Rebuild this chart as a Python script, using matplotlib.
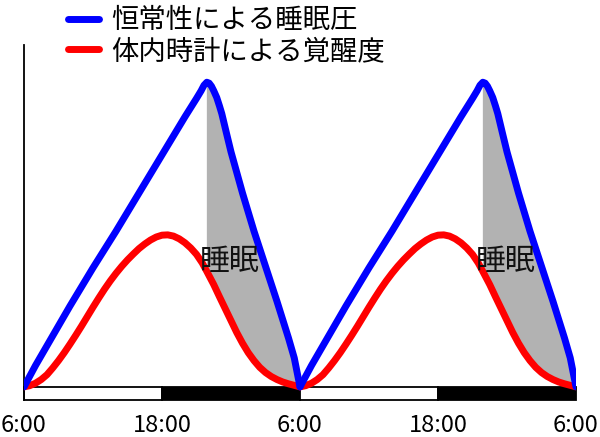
import matplotlib
matplotlib.use("Agg")
import matplotlib.pyplot as plt
from matplotlib.patches import Rectangle

plt.rcParams['font.family'] = ['Noto Sans CJK JP', 'DejaVu Sans']

# ---- data (hours since 6:00, one 24h cycle; the picture shows it twice) ----
days = [0, 24]
pressure_hours = [0, 1, 2, 4, 6, 8, 10, 12, 14, 15, 15.4, 15.65, 15.9, 16.1,
                  16.3, 16.5, 16.76, 17.0, 17.2, 17.6, 18, 19, 20, 21, 22, 23,
                  23.5, 24]
pressure_vals = [0, 7, 13.5, 26.5, 39, 51, 63.5, 76, 88.5, 94.5, 97, 98.8,
                 99.8, 99.5, 98.5, 97, 94.8, 92, 89.5, 83.2, 77, 63.5, 51,
                 39.5, 28, 16, 9.5, 0]
alert_hours = [0, 0.5, 1, 1.5, 2, 2.5, 3, 3.5, 4, 4.5, 5, 5.5, 6, 6.5, 7, 7.5,
               8, 8.5, 9, 9.5, 10, 10.5, 11, 11.5, 12, 12.5, 13, 13.5, 14,
               14.5, 15, 15.5, 15.9, 16.5, 17, 17.5, 18, 18.5, 19, 19.5, 20,
               20.5, 21, 21.5, 22, 22.5, 23, 23.5, 24]
alert_vals = [0, 0.4, 1.2, 2.4, 4.0, 6.2, 8.6, 11.2, 14.0, 16.9, 19.9, 23.0,
              26.1, 29.1, 32.0, 34.7, 37.2, 39.5, 41.6, 43.5, 45.3, 46.8,
              48.1, 49.1, 49.7, 49.8, 49.4, 48.5, 47.2, 45.5, 43.4, 40.6,
              37.8, 33.5, 29.5, 25.6, 21.7, 17.8, 14.3, 11.2, 8.6, 6.4, 4.7,
              3.4, 2.4, 1.6, 1.0, 0.5, 0]
sleep_start = 15.9
tick_pos = [0, 12, 24, 36, 48]
tick_labels = ['6:00', '18:00', '6:00', '18:00', '6:00']
bar_segments = [(0, 12, 'white'), (12, 24, 'black'),
                (24, 36, 'white'), (36, 48, 'black')]
label_pressure = '恒常性による睡眠圧'
label_alert = '体内時計による覚醒度'
label_sleep = '睡眠'

fig = plt.figure(figsize=(6, 4.37), dpi=100)
ax = fig.add_axes([0.04, 1 - 400 / 437, 0.92, (400 - 45) / 437])
ax.set_xlim(0, 48)
ax.set_ylim(-4.3, 112)

for i, d in enumerate(days):
    # gray sleep area between the two curves after the pressure peak
    bx = [h + d for h in pressure_hours if h >= sleep_start]
    by = [v for h, v in zip(pressure_hours, pressure_vals) if h >= sleep_start]
    rx = [h + d for h in alert_hours if h >= sleep_start][::-1]
    ry = [v for h, v in zip(alert_hours, alert_vals) if h >= sleep_start][::-1]
    ax.fill(bx + rx, by + ry, color='#b2b2b2', lw=0, zorder=1)
    ax.plot([h + d for h in alert_hours], alert_vals, color='#ff0000', lw=5,
            solid_capstyle='round', solid_joinstyle='round', zorder=3,
            label=label_alert if i == 0 else None)
    ax.plot([h + d for h in pressure_hours], pressure_vals, color='#0000ff', lw=5,
            solid_capstyle='round', solid_joinstyle='round', zorder=4,
            label=label_pressure if i == 0 else None)
    ax.text(d + 17.9, 41.2, label_sleep, fontsize=21.5, ha='center', va='center',
            color='#111111', zorder=5)

for x0, x1, c in bar_segments:
    ax.add_patch(Rectangle((x0, -4.3), x1 - x0, 4.3, facecolor=c,
                           edgecolor='black', lw=1.3, clip_on=False, zorder=2))

for s in ['top', 'right', 'bottom']:
    ax.spines[s].set_visible(False)
ax.spines['left'].set_linewidth(1.3)
ax.set_yticks([])
ax.set_xticks(tick_pos)
ax.set_xticklabels(tick_labels, fontsize=17)
ax.tick_params(axis='x', length=0, pad=10)

handles, labels = ax.get_legend_handles_labels()
order = [1, 0]
leg = fig.legend([handles[i] for i in order], [labels[i] for i in order],
                 loc='upper left', bbox_to_anchor=(49 / 600, 1.027),
                 frameon=False, fontsize=19.7, handlelength=1.12,
                 handletextpad=0.47, labelspacing=0.13, borderpad=0.2)

fig.savefig('out.png', dpi=100)
